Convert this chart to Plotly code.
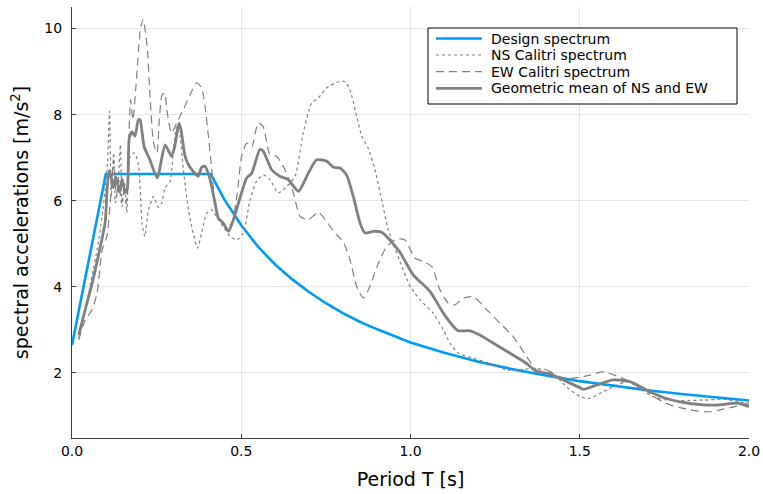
import plotly.graph_objects as go

# ---------------- data ----------------
design_T = [0.0, 0.1, 0.41, 0.45, 0.5, 0.55, 0.6, 0.65, 0.7, 0.75, 0.8, 0.85, 0.9, 0.95, 1.0,
            1.1, 1.2, 1.3, 1.4, 1.5, 1.6, 1.7, 1.8, 1.9, 2.0]
design_Sa = [2.65, 6.62, 6.62, 6.03, 5.43, 4.93, 4.52, 4.18, 3.88, 3.62, 3.39, 3.19, 3.02, 2.86, 2.71,
             2.47, 2.26, 2.09, 1.94, 1.81, 1.70, 1.60, 1.51, 1.43, 1.36]

ns_T = [0.02, 0.04, 0.059, 0.075, 0.089, 0.098, 0.105, 0.111, 0.116, 0.123, 0.128, 0.135, 0.143,
        0.148, 0.156, 0.162, 0.172, 0.185, 0.197, 0.207, 0.215, 0.226, 0.241, 0.255, 0.265, 0.275,
        0.29, 0.299, 0.309, 0.319, 0.329, 0.344, 0.358, 0.371, 0.383, 0.398, 0.413, 0.427, 0.447,
        0.467, 0.487, 0.506, 0.526, 0.545, 0.565, 0.585, 0.609, 0.634, 0.659, 0.683, 0.708, 0.728,
        0.752, 0.782, 0.806, 0.821, 0.841, 0.856, 0.875, 0.895, 0.915, 0.934, 0.954, 0.969, 0.999,
        1.028, 1.067, 1.097, 1.117, 1.141, 1.186, 1.235, 1.284, 1.323, 1.363, 1.402, 1.432, 1.461,
        1.501, 1.53, 1.57, 1.609, 1.643, 1.678, 1.717, 1.757, 1.806, 1.865, 1.924, 1.973, 2.0]
ns_Sa = [2.8, 3.5, 4.24, 4.9, 5.64, 6.26, 6.9, 8.08, 6.1, 7.11, 5.95, 6.26, 7.3,
         5.87, 6.41, 5.72, 7.03, 7.11, 6.8, 5.48, 5.17, 5.79, 6.1, 5.85, 5.95, 6.3,
         6.45, 7.11, 7.73, 7.5, 6.72, 5.79, 5.25, 4.9, 5.25, 5.71, 5.79, 5.63, 5.4,
         5.17, 5.09, 5.25, 6.02, 6.45, 6.6, 6.49, 6.18, 6.33, 6.57, 7.57, 8.27, 8.39,
         8.62, 8.75, 8.77, 8.58, 7.96, 7.5, 7.22, 6.72, 6.02, 5.33, 4.9, 4.59, 4.01,
         3.7, 3.39, 3.0, 2.69, 2.46, 2.34, 2.22, 2.07, 2.07, 2.11, 2.07, 1.91, 1.68,
         1.45, 1.41, 1.57, 1.72, 1.8, 1.64, 1.45, 1.37, 1.36, 1.37, 1.39, 1.33, 1.26]

ew_T = [0.02, 0.039, 0.059, 0.074, 0.089, 0.103, 0.113, 0.123, 0.131, 0.138, 0.146, 0.153, 0.16,
        0.167, 0.173, 0.18, 0.189, 0.202, 0.21, 0.222, 0.231, 0.241, 0.251, 0.258, 0.266, 0.274,
        0.28, 0.294, 0.309, 0.329, 0.349, 0.368, 0.383, 0.393, 0.403, 0.413, 0.422, 0.437, 0.457,
        0.472, 0.487, 0.501, 0.516, 0.531, 0.55, 0.565, 0.585, 0.605, 0.629, 0.654, 0.674, 0.698,
        0.728, 0.752, 0.777, 0.801, 0.821, 0.841, 0.861, 0.88, 0.905, 0.93, 0.959, 0.984, 1.013,
        1.038, 1.063, 1.087, 1.112, 1.131, 1.156, 1.186, 1.225, 1.264, 1.304, 1.343, 1.373, 1.402,
        1.442, 1.481, 1.53, 1.57, 1.609, 1.648, 1.688, 1.727, 1.767, 1.806, 1.845, 1.885, 1.924,
        1.964, 2.0]
ew_Sa = [2.77, 3.23, 3.47, 3.85, 4.86, 5.17, 5.95, 6.95, 6.1, 6.49, 5.95, 6.26, 5.95,
         7.19, 8.35, 7.88, 8.66, 9.98, 10.21, 9.59, 8.35, 7.34, 7.11, 7.88, 8.46, 8.5,
         8.12, 7.57, 7.8, 8.12, 8.47, 8.74, 8.62, 8.19, 7.5, 6.72, 5.95, 5.56, 5.4,
         5.48, 6.1, 7.03, 7.34, 7.25, 7.81, 7.72, 7.07, 7.03, 6.72, 6.18, 5.63, 5.56,
         5.73, 5.52, 5.25, 5.05, 4.63, 4.01, 3.74, 4.01, 4.55, 4.94, 5.11, 5.09, 4.67,
         4.59, 4.47, 3.93, 3.62, 3.58, 3.74, 3.77, 3.47, 3.16, 2.84, 2.38, 2.07, 2.07,
         1.91, 1.88, 1.95, 2.03, 1.93, 1.8, 1.64, 1.41, 1.26, 1.18, 1.12, 1.1, 1.16,
         1.23, 1.31]

geo_T = [0.02, 0.04, 0.06, 0.08, 0.098, 0.104, 0.11, 0.116, 0.122, 0.13, 0.14, 0.148, 0.157,
         0.163, 0.169, 0.177, 0.186, 0.196, 0.201, 0.213, 0.23, 0.252, 0.275, 0.294, 0.304, 0.316,
         0.322, 0.334, 0.344, 0.358, 0.373, 0.383, 0.393, 0.408, 0.4225, 0.432, 0.447, 0.462,
         0.477, 0.496, 0.516, 0.531, 0.555, 0.565, 0.59, 0.614, 0.639, 0.669, 0.698, 0.723, 0.752,
         0.772, 0.792, 0.811, 0.831, 0.851, 0.866, 0.89, 0.915, 0.939, 0.969, 1.008, 1.058, 1.097,
         1.127, 1.141, 1.176, 1.205, 1.245, 1.294, 1.343, 1.373, 1.407, 1.451, 1.5, 1.511, 1.55,
         1.599, 1.648, 1.698, 1.747, 1.796, 1.865, 1.914, 1.964, 2.0]
geo_Sa = [2.88, 3.5, 4.1, 4.8, 5.5, 6.3, 6.7, 6.55, 6.3, 6.55, 6.2, 6.5, 6.2,
          6.25, 7.45, 7.6, 7.5, 7.88, 7.88, 7.26, 6.95, 6.53, 7.3, 7.03, 7.28, 7.8,
          7.65, 7.03, 6.84, 6.68, 6.57, 6.78, 6.8, 6.49, 5.95, 5.6, 5.48, 5.29,
          5.56, 6.06, 6.53, 6.64, 7.19, 7.15, 6.72, 6.57, 6.49, 6.22, 6.64, 6.95, 6.92,
          6.78, 6.76, 6.6, 6.1, 5.48, 5.25, 5.29, 5.27, 5.09, 4.8, 4.28, 3.89, 3.39,
          3.08, 2.98, 2.98, 2.88, 2.69, 2.46, 2.22, 2.03, 1.99, 1.84, 1.66, 1.62, 1.72,
          1.84, 1.8, 1.6, 1.43, 1.33, 1.26, 1.26, 1.3, 1.22]

x_ticks = [0.0, 0.5, 1.0, 1.5, 2.0]
x_tick_labels = ["0.0", "0.5", "1.0", "1.5", "2.0"]
y_ticks = [2, 4, 6, 8, 10]

series_names = ["Design spectrum", "NS Calitri spectrum", "EW Calitri spectrum",
                "Geometric mean of NS and EW"]

BLUE = "rgb(0,154,250)"
GRAY = "rgb(128,128,128)"
FONT = "DejaVu Sans"

styles = [
    dict(color=BLUE, width=2.6),
    dict(color=GRAY, width=1.2, dash="dot", shape="spline", smoothing=0.6),
    dict(color=GRAY, width=1.2, dash="8px,5px", shape="spline", smoothing=0.6),
    dict(color=GRAY, width=2.8, shape="spline", smoothing=0.6),
]
xs = [design_T, ns_T, ew_T, geo_T]
ys = [design_Sa, ns_Sa, ew_Sa, geo_Sa]

fig = go.Figure()
for name, x, y, st in zip(series_names, xs, ys, styles):
    fig.add_trace(go.Scatter(x=x, y=y, mode="lines", name=name, line=st, showlegend=False))

axis_common = dict(showgrid=True, gridcolor="rgba(0,0,0,0.1)", gridwidth=1,
                   showline=True, linecolor="rgb(60,60,60)", linewidth=1.2,
                   ticks="inside", ticklen=4, tickcolor="rgb(60,60,60)",
                   zeroline=False, mirror=False, ticklabeloverflow="allow",
                   automargin=False,
                   tickfont=dict(family=FONT, size=14, color="black"))

fig.update_xaxes(range=[0, 2.0], tickvals=x_ticks, ticktext=x_tick_labels,
                 title=dict(text="Period T [s]", font=dict(family=FONT, size=19, color="black"),
                            standoff=14),
                 **axis_common)
fig.update_yaxes(range=[0.49, 10.5], tickvals=y_ticks, ticklabelstandoff=6,
                 title=dict(text="spectral accelerations [m/s<sup>2</sup>]",
                            font=dict(family=FONT, size=19, color="black"), standoff=10),
                 **axis_common)

# ---- legend box drawn in paper coordinates ----
W, H = 763, 494
ML, MR, MT, MB = 72, 14, 7, 56
PW, PH = W - ML - MR, H - MT - MB


def px(xp):
    return (xp - ML) / PW


def py(yp):
    return (H - MB - yp) / PH


box_l, box_r, box_t, box_b = 428, 737, 28, 104
fig.add_shape(type="rect", xref="paper", yref="paper",
              x0=px(box_l), x1=px(box_r), y0=py(box_b), y1=py(box_t),
              line=dict(color="black", width=1), fillcolor="white", layer="above")
row_y = [38.5, 55.0, 71.7, 88.3]
for name, st, ry in zip(series_names, styles, row_y):
    lst = dict(color=st["color"], width=st["width"])
    if "dash" in st:
        lst["dash"] = st["dash"]
    fig.add_shape(type="line", xref="paper", yref="paper",
                  x0=px(436), x1=px(482), y0=py(ry), y1=py(ry),
                  line=lst, layer="above")
    fig.add_annotation(x=px(489), y=py(ry), xref="paper", yref="paper",
                       text=name, showarrow=False, xanchor="left", yanchor="middle",
                       font=dict(family=FONT, size=14, color="black"))

fig.update_layout(
    width=W, height=H,
    margin=dict(l=ML, r=MR, t=MT, b=MB),
    paper_bgcolor="white", plot_bgcolor="white",
    font=dict(family=FONT, color="black"),
    showlegend=False,
)

fig.write_html("out.html")
